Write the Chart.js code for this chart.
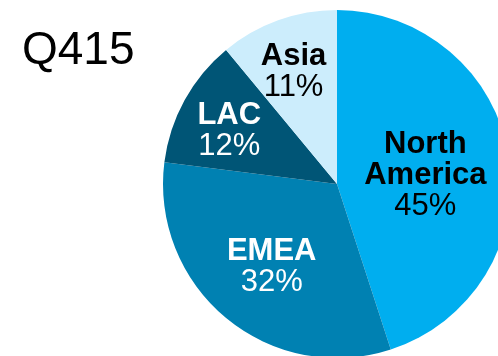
<!DOCTYPE html>
<html lang="en">
<head>
  <meta charset="UTF-8">
  <title>Q415 regions</title>
  <script src="https://cdn.jsdelivr.net/npm/chart.js"></script>
  <style>
    html, body { margin: 0; padding: 0; background: #fff; overflow: hidden; }
    #wrap { position: absolute; left: 0; top: 0; width: 520px; height: 370px; }
    #title { position: absolute; left: 22px; top: 21px; font: 46px "Liberation Sans", Arial, sans-serif; color: #000; }
  </style>
</head>
<body>
  <div id="wrap"><canvas id="pie"></canvas></div>
  <div id="title">Q415</div>

  <script>
    // data
    const regions = ['North America', 'EMEA', 'LAC', 'Asia'];
    const shares = [45, 32, 12, 11];
    const labelLines = [['North', 'America'], ['EMEA'], ['LAC'], ['Asia']];
    const sliceColors = ['#00aeef', '#0081b2', '#005576', '#ccedfc'];
    const textColors = ['#000', '#fff', '#fff', '#000'];
    // how far out (fraction of radius) each label sits
    const labelRadius = [0.52, 0.58, 0.7, 0.72];

    const sliceLabels = {
      id: 'sliceLabels',
      afterDatasetsDraw(chart) {
        const ctx = chart.ctx;
        const meta = chart.getDatasetMeta(0);
        const size = 31, lh = 31;
        meta.data.forEach((arc, i) => {
          const p = arc.getProps(['x', 'y', 'startAngle', 'endAngle', 'outerRadius'], true);
          const mid = (p.startAngle + p.endAngle) / 2;
          const cx = p.x + Math.cos(mid) * p.outerRadius * labelRadius[i] - 1;
          const cy = p.y + Math.sin(mid) * p.outerRadius * labelRadius[i] + 3;
          const lines = labelLines[i].map(t => ({ t, bold: true }));
          lines.push({ t: shares[i] + '%', bold: false });
          ctx.save();
          ctx.fillStyle = textColors[i];
          ctx.textAlign = 'center';
          ctx.textBaseline = 'alphabetic';
          lines.forEach((ln, k) => {
            ctx.font = (ln.bold ? 'bold ' : '') + size + 'px "Liberation Sans", Arial, sans-serif';
            const y = cy - (lines.length - 1) * lh / 2 + k * lh + 0.358 * size;
            ctx.fillText(ln.t, cx, y);
          });
          ctx.restore();
        });
      }
    };

    new Chart(document.getElementById('pie'), {
      type: 'pie',
      data: {
        labels: regions,
        datasets: [{
          data: shares,
          backgroundColor: sliceColors,
          borderWidth: 0
        }]
      },
      options: {
        responsive: true,
        maintainAspectRatio: false,
        animation: false,
        layout: { padding: { left: 163, right: 9, top: 10, bottom: 12 } },
        plugins: {
          legend: { display: false },
          tooltip: { enabled: false }
        }
      },
      plugins: [sliceLabels]
    });
  </script>
</body>
</html>
